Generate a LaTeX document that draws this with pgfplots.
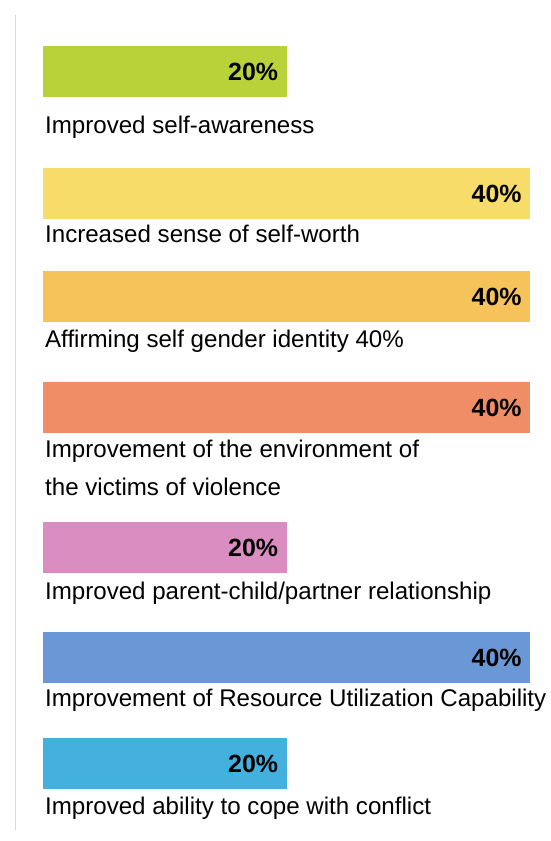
\documentclass[border=0pt]{standalone}
\usepackage{pgfplots}
\pgfplotsset{compat=1.18}
\usepackage{fontspec}
\setmainfont{Liberation Sans}
\definecolor{c1}{HTML}{B9D23A}
\definecolor{c2}{HTML}{F7DC6A}
\definecolor{c3}{HTML}{F6C25A}
\definecolor{c4}{HTML}{EE8D66}
\definecolor{c5}{HTML}{DA8DC0}
\definecolor{c6}{HTML}{6A97D6}
\definecolor{c7}{HTML}{43B0DD}
\tikzset{lbl/.style={anchor=west, inner sep=0pt, font=\fontsize{24.2}{29}\selectfont, text=black}}
\begin{document}
\begin{tikzpicture}
\begin{axis}[
  scale only axis, width=551bp, height=841bp,
  xmin=-3.532, xmax=41.72, ymin=-841, ymax=0,
  axis lines=none, clip=false,
  /pgf/number format/assume math mode=true,
  xbar, bar width=51, bar shift=0,
  nodes near coords={\textbf{\pgfmathprintnumber{\pgfplotspointmeta}\%}},
  every node near coord/.append style={anchor=east, xshift=-5bp, font=\fontsize{25}{30}\selectfont\bfseries, text=black},
]
\path (rel axis cs:0,0) rectangle (rel axis cs:1,1);
\draw[black!15, line width=1bp] (axis cs:-2.22,-15) -- (axis cs:-2.22,-830);
\addplot[fill=c1, draw=none] coordinates {(20,-72)};
\addplot[fill=c2, draw=none] coordinates {(40,-194)};
\addplot[fill=c3, draw=none] coordinates {(40,-297)};
\addplot[fill=c4, draw=none] coordinates {(40,-408)};
\addplot[fill=c5, draw=none] coordinates {(20,-548)};
\addplot[fill=c6, draw=none] coordinates {(40,-658)};
\addplot[fill=c7, draw=none] coordinates {(20,-764)};
\node[lbl] at (axis cs:0.16,-127) {Improved self-awareness};
\node[lbl] at (axis cs:0.16,-234) {Increased sense of self-worth};
\node[lbl] at (axis cs:0.16,-341) {Affirming self gender identity 40\%};
\node[lbl] at (axis cs:0.16,-451) {Improvement of the environment of};
\node[lbl] at (axis cs:0.16,-487) {the victims of violence};
\node[lbl] at (axis cs:0.16,-593) {Improved parent-child/partner relationship};
\node[lbl] at (axis cs:0.16,-700) {Improvement of Resource Utilization Capability};
\node[lbl] at (axis cs:0.16,-808) {Improved ability to cope with conflict};
\end{axis}
\end{tikzpicture}
\end{document}
